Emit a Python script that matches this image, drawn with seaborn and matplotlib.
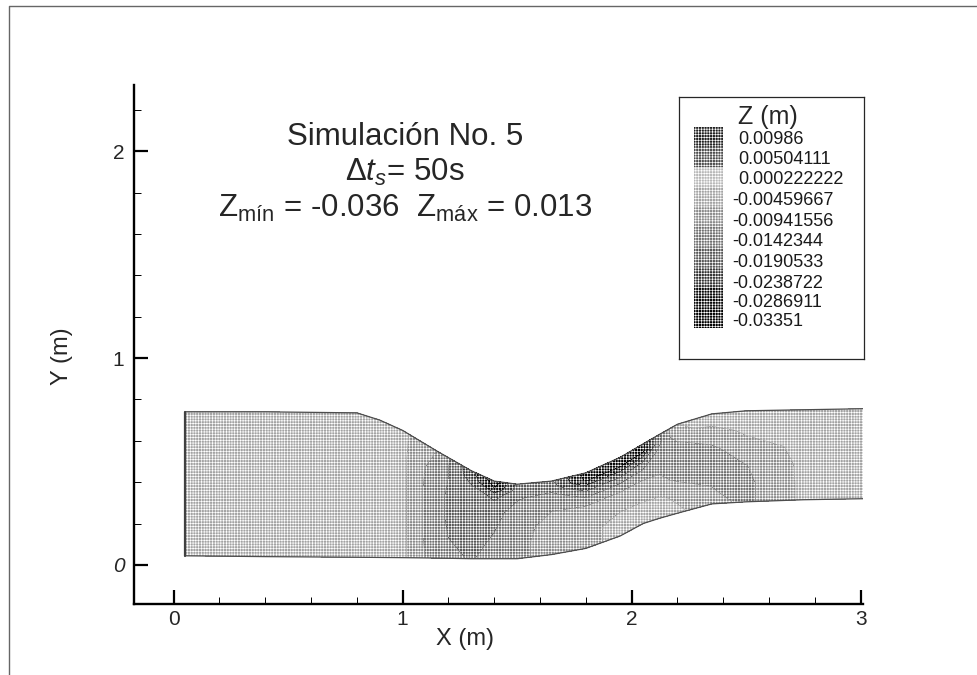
import numpy as np
import pandas as pd
import matplotlib
matplotlib.use("Agg")
import matplotlib.pyplot as plt
from matplotlib.colors import ListedColormap, BoundaryNorm
from matplotlib.lines import Line2D
from matplotlib.patches import Rectangle
from matplotlib.ticker import MultipleLocator
import seaborn as sns

# channel walls
x_st = [0.05, 0.40, 0.80, 0.90, 1.00, 1.15, 1.30, 1.40, 1.50, 1.65, 1.80, 1.95, 2.05, 2.12, 2.20, 2.35, 2.50, 2.75, 3.01]
y_top = [0.74, 0.74, 0.735, 0.70, 0.65, 0.55, 0.455, 0.405, 0.39, 0.405, 0.445, 0.52, 0.585, 0.63, 0.68, 0.73, 0.745, 0.75, 0.755]
y_bot = [0.044, 0.04, 0.037, 0.036, 0.035, 0.033, 0.03, 0.03, 0.03, 0.05, 0.08, 0.14, 0.20, 0.225, 0.25, 0.295, 0.305, 0.315, 0.32]
row_frac = [0.0, 0.2, 0.4, 0.6, 0.8, 0.9, 1.0]

# water surface, one row per row_frac, bottom wall first (estimated from the shading)
z_0 = [-.006, -.006, -.006, -.006, -.006, -.015, -.017, -.015, -.013, -.010, -.008, -.006, -.006, -.006, -.006, -.010, -.013, -.006, -.006]
z_1 = [-.006, -.006, -.006, -.006, -.006, -.016, -.018, -.016, -.013, -.010, -.008, -.006, -.006, -.006, -.008, -.012, -.013, -.006, -.006]
z_2 = [-.006, -.006, -.006, -.006, -.006, -.016, -.019, -.017, -.014, -.010, -.008, -.008, -.009, -.010, -.013, -.013, -.012, -.006, -.006]
z_3 = [-.006, -.006, -.006, -.006, -.006, -.016, -.019, -.018, -.015, -.012, -.013, -.013, -.013, -.013, -.014, -.013, -.009, -.006, -.006]
z_4 = [-.006, -.006, -.006, -.006, -.006, -.015, -.020, -.023, -.017, -.015, -.024, -.025, -.023, -.015, -.012, -.009, -.006, -.006, -.006]
z_5 = [-.006, -.006, -.006, -.006, -.006, -.013, -.024, -.031, -.019, -.019, -.032, -.033, -.032, -.018, -.008, -.006, -.006, -.006, -.006]
z_6 = [-.006, -.006, -.006, -.006, -.006, -.012, -.025, -.035, -.021, -.021, -.033, -.034, -.033, -.018, -.007, -.006, -.006, -.006, -.006]

# legend of the picture
legend_values = [0.00986, 0.00504111, 0.000222222, -0.00459667, -0.00941556,
                 -0.0142344, -0.0190533, -0.0238722, -0.0286911, -0.03351]
legend_labels = ["0.00986", "0.00504111", "0.000222222", "-0.00459667", "-0.00941556",
                 "-0.0142344", "-0.0190533", "-0.0238722", "-0.0286911", "-0.03351"]
band_greys = [0.12, 0.30, 0.72, 0.64, 0.54, 0.44, 0.34, 0.20, 0.03, 0.0]

sns.set_style("white")
plt.rcParams["font.family"] = ["Liberation Sans", "DejaVu Sans"]
plt.rcParams["mathtext.fontset"] = "custom"
plt.rcParams["mathtext.rm"] = "Liberation Sans"
plt.rcParams["mathtext.it"] = "Liberation Sans:italic"
plt.rcParams["hatch.color"] = "white"
plt.rcParams["hatch.linewidth"] = 0.45

W, H = 977, 675


def fx(px):
    return px / W


def fy(py):
    return 1 - py / H


fig = plt.figure(figsize=(9.77, 6.75), dpi=100)
ax = fig.add_axes([fx(134), fy(604), fx(863 - 134), (604 - 85) / H])

# flooded water surface
xs = np.array(x_st)
top = np.array(y_top)
bot = np.array(y_bot)
Z = np.array([z_0, z_1, z_2, z_3, z_4, z_5, z_6])
X = np.tile(xs, (len(row_frac), 1))
Y = np.array([bot + f * (top - bot) for f in row_frac])

levels = sorted(legend_values)
bounds = [-0.04] + [(a + b) / 2 for a, b in zip(levels[:-1], levels[1:])] + [0.015]
greys = [str(g) for g in band_greys[::-1]]
cf = ax.contourf(X, Y, Z, levels=bounds, colors=greys, hatches=["++++++"] * len(greys), antialiased=False)

walls = pd.DataFrame({"x": x_st + x_st, "y": y_top + y_bot,
                      "wall": ["top"] * len(x_st) + ["bot"] * len(x_st)})
sns.lineplot(data=walls, x="x", y="y", units="wall", estimator=None, sort=False,
             color="0.3", lw=0.9, ax=ax)
ax.plot([x_st[0], x_st[0]], [y_bot[0], y_top[0]], color="0.25", lw=1.6)

ax.set_xlim(-0.173, 3.01)
ax.set_ylim(-0.189, 2.32)
ax.set_xticks([0, 1, 2, 3])
ax.set_yticks([0, 1, 2])
ax.xaxis.set_minor_locator(MultipleLocator(0.2))
ax.yaxis.set_minor_locator(MultipleLocator(0.2))
ax.tick_params(which="major", direction="in", length=10, width=1.6, labelsize=15, color="black",
               bottom=True, left=True)
ax.tick_params(axis="y", which="major", pad=7)
ax.tick_params(axis="x", which="major", pad=4)
ax.tick_params(which="minor", direction="in", length=5, width=0.7, color="black", bottom=True, left=True)
ax.get_yticklabels()[0].set_style("italic")
ax.set_xlabel("")
ax.set_ylabel("")
sns.despine(ax=ax)
for s in ["left", "bottom"]:
    ax.spines[s].set_linewidth(1.7)
    ax.spines[s].set_color("black")

fig.text(fx(465), fy(639), "X (m)", fontsize=17, ha="center", va="center")
fig.text(fx(62), fy(356), "Y (m)", fontsize=17, ha="center", va="center", rotation=90)

# annotation block
fig.text(fx(405), fy(137), "Simulación No. 5", fontsize=22.5, ha="center", va="center")
fig.text(fx(405), fy(172), r"$\mathit{Δt}_{\mathit{s}}$= 50s", fontsize=22.5, ha="center", va="center")
fig.text(fx(405), fy(208), r"Z$_{\mathrm{mín}}$ = -0.036  Z$_{\mathrm{máx}}$ = 0.013",
         fontsize=22.5, ha="center", va="center")

# legend box with a heatmap strip
box = fig.add_axes([fx(679), fy(359), (864 - 679) / W, (359 - 97) / H], zorder=2)
box.set_xticks([])
box.set_yticks([])
for s in box.spines.values():
    s.set_linewidth(0.9)
    s.set_color("0.15")
    s.set_visible(True)

cax = fig.add_axes([fx(694), fy(328), (723 - 694) / W, (328 - 127) / H], zorder=3)
strip = pd.DataFrame({"z": legend_values})
sns.heatmap(strip, ax=cax, cbar=False, xticklabels=False, yticklabels=False,
            cmap=ListedColormap(greys), norm=BoundaryNorm(bounds, len(bounds) - 1))
cax.set_xlabel("")
cax.set_ylabel("")
cax.add_patch(Rectangle((0, 0), 1, len(legend_values), fill=False, hatch="++++++", lw=0))

fig.text(fx(738), fy(117), "Z (m)", fontsize=18, ha="left", va="center", zorder=5)
label_rows = [139, 160, 180, 201, 222, 242, 263, 283, 302, 322]
for lab, py in zip(legend_labels, label_rows):
    lx = 732 if lab.startswith("-") else 738
    fig.text(fx(lx), fy(py), lab, fontsize=13, ha="left", va="center", color="0.1", zorder=5)

# scanned page frame
fig.add_artist(Line2D([fx(9), fx(9), fx(977)], [fy(675), fy(6), fy(6)], transform=fig.transFigure,
                      color="0.4", lw=1.0))

fig.savefig("out.png", dpi=100)
